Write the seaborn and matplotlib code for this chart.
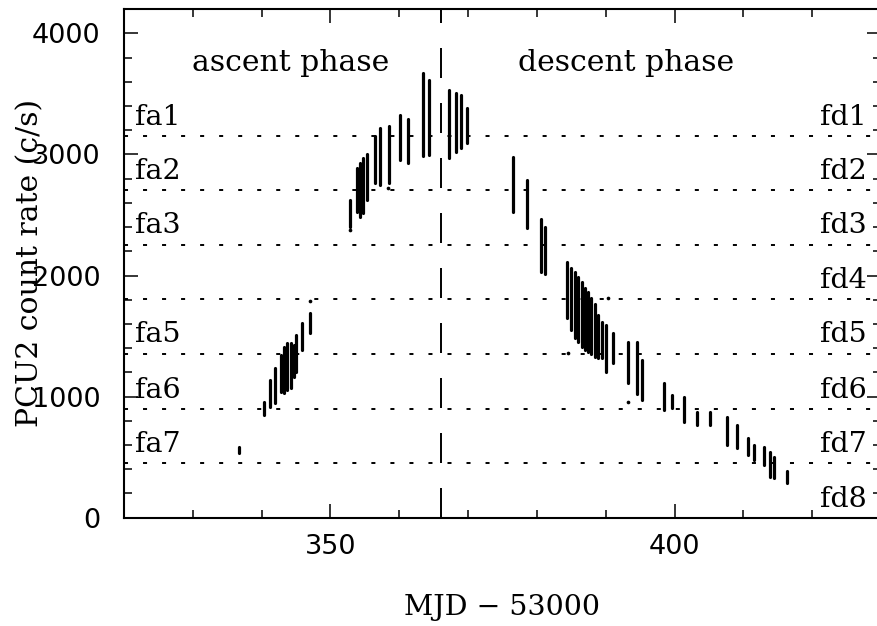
import numpy as np
import pandas as pd
import matplotlib
matplotlib.use("Agg")
import matplotlib.pyplot as plt
import seaborn as sns
from matplotlib.ticker import MultipleLocator

obs_mjd = [336.7, 340.3, 341.2, 341.9, 342.8, 343.2, 343.7, 344.2, 344.7, 345.0, 345.9, 347.0,
           352.9, 353.8, 354.3, 354.8, 355.3, 356.5, 357.2, 358.5, 360.1, 361.3, 363.5, 364.3,
           367.2, 368.2, 369.0, 369.8,
           376.5, 378.6, 380.6, 381.2,
           384.3, 385.0, 385.5, 386.0, 386.5, 387.0, 387.4, 387.9, 388.4, 388.9, 389.4,
           390.1, 391.0, 393.2, 394.5, 395.3, 398.5, 399.6, 401.4, 403.3, 405.2,
           407.6, 409.1, 410.7, 411.6, 413.0, 413.8, 414.5, 416.4]
obs_lo = [535, 850, 915, 945, 1038, 1031, 1055, 1072, 1161, 1200, 1385, 1525,
          2400, 2525, 2485, 2515, 2620, 2760, 2745, 2760, 2955, 2931, 2983, 2998,
          2971, 3021, 3050, 3095,
          2525, 2395, 2030, 2010,
          1651, 1550, 1486, 1452, 1410, 1386, 1370, 1353, 1328, 1320, 1320,
          1200, 1275, 1110, 1025, 970, 890, 905, 790, 765, 765,
          600, 575, 518, 477, 435, 335, 330, 285]
obs_hi = [585, 955, 1137, 1237, 1343, 1411, 1444, 1444, 1427, 1510, 1610, 1690,
          2625, 2890, 2930, 2970, 3000, 3150, 3220, 3235, 3326, 3294, 3673, 3616,
          3533, 3508, 3490, 3385,
          2980, 2790, 2470, 2400,
          2113, 2064, 2031, 1989, 1948, 1899, 1865, 1816, 1766, 1675, 1617,
          1590, 1525, 1450, 1450, 1300, 1110, 1013, 995, 873, 873,
          830, 765, 660, 600, 585, 543, 500, 385]
# isolated points
dot_mjd = [347.0, 352.9, 384.5, 390.3, 393.2, 358.4]
dot_rate = [1790, 2376, 1361, 1816, 955, 2725]

# flux-level boundaries and labels
level_rates = [3155, 2705, 2255, 1805, 1355, 900, 450]
ascent_labels = ["fa1", "fa2", "fa3", "", "fa5", "fa6", "fa7"]
descent_labels = ["fd1", "fd2", "fd3", "fd4", "fd5", "fd6", "fd7", "fd8"]
descent_label_rates = [3155, 2705, 2255, 1805, 1355, 900, 450, 0]
phase_split = 366.0

# ---- build long-format table ----
rows = []
for i, (x, lo, hi) in enumerate(zip(obs_mjd, obs_lo, obs_hi)):
    rows.append({"obs": i, "mjd": x, "rate": lo})
    rows.append({"obs": i, "mjd": x, "rate": hi})
df = pd.DataFrame(rows)
dots = pd.DataFrame({"mjd": dot_mjd, "rate": dot_rate})

sns.set_theme(style="ticks")
plt.rcParams["lines.scale_dashes"] = False
plt.rcParams["text.color"] = "black"
plt.rcParams["axes.labelcolor"] = "black"
plt.rcParams["xtick.color"] = "black"
plt.rcParams["ytick.color"] = "black"
serif = ["DejaVu Serif"]
sans = ["DejaVu Sans"]

fig = plt.figure(figsize=(8.78, 6.26), dpi=100)
W, H = 878, 626
ax_l, ax_r, ax_t, ax_b = 124, 881, 8.5, 517.7
ax = fig.add_axes([ax_l / W, 1 - ax_b / H, (ax_r - ax_l) / W, (ax_b - ax_t) / H])

sns.lineplot(data=df, x="mjd", y="rate", units="obs", estimator=None, sort=False,
             color="black", lw=2.3, ax=ax, legend=False, solid_capstyle="round")
sns.scatterplot(data=dots, x="mjd", y="rate", color="black", s=7, linewidth=0, ax=ax)

for r in level_rates:
    ax.axhline(r, color="black", lw=1.4, dashes=(2.9, 10.8), zorder=1)
ax.axvline(phase_split, color="black", lw=1.4, dashes=(21.6, 18.0), zorder=1)

ax.set_xlim(320, 430)
ax.set_ylim(0, 4205)

# labels for flux levels
for r, lab in zip(level_rates, ascent_labels):
    if lab:
        ax.text(321.6, r + 92, lab, family=serif, fontsize=20.5, ha="left", va="baseline",
                color="black")
for r, lab in zip(descent_label_rates, descent_labels):
    ax.text(427.9, r + 92, lab, family=serif, fontsize=20.5, ha="right", va="baseline",
            color="black")

ax.text(344.2, 3689, "ascent phase", family=serif, fontsize=21.5, ha="center",
        va="baseline", color="black")
ax.text(392.9, 3689, "descent phase", family=serif, fontsize=21.5, ha="center",
        va="baseline", color="black")

# axes styling
ax.xaxis.set_major_locator(MultipleLocator(50))
ax.xaxis.set_minor_locator(MultipleLocator(10))
ax.yaxis.set_major_locator(MultipleLocator(1000))
ax.yaxis.set_minor_locator(MultipleLocator(200))
ax.tick_params(which="both", direction="in", top=True, right=True, color="black")
ax.tick_params(which="major", length=10, width=1.1)
ax.tick_params(which="minor", length=5.5, width=1.1)
ax.tick_params(axis="y", which="major", pad=17)
ax.tick_params(axis="x", which="major", pad=12)
for lab in ax.get_xticklabels() + ax.get_yticklabels():
    lab.set_family(sans)
    lab.set_fontsize(19.5)
    lab.set_color("black")
for s in ax.spines.values():
    s.set_linewidth(1.5)
    s.set_color("black")

ax.set_xlabel("MJD − 53000", family=serif, fontsize=20.5, color="black")
ax.set_ylabel("PCU2 count rate (c/s)", family=serif, fontsize=21.5, color="black")
ax.xaxis.set_label_coords((502 - ax_l) / (ax_r - ax_l), -(594 - ax_b) / (ax_b - ax_t))
ax.yaxis.set_label_coords(-(ax_l - 44) / (ax_r - ax_l), 0.5)

fig.savefig("out.png", dpi=100, facecolor="white")
